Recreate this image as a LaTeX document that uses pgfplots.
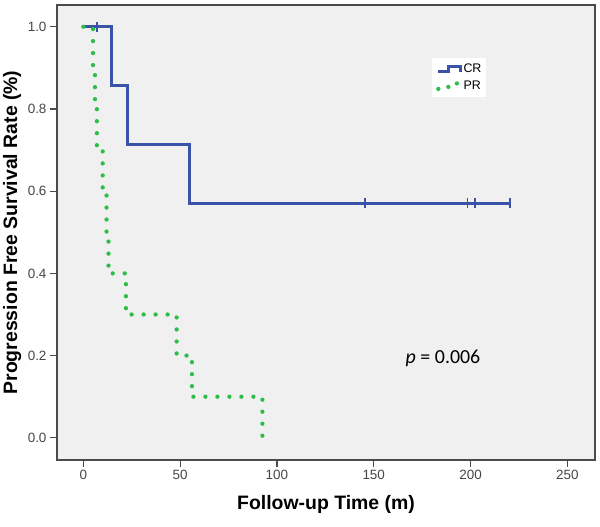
\documentclass[border=0pt]{standalone}
\usepackage{pgfplots}
\pgfplotsset{compat=1.18}
\usepackage{fontspec}
\setmainfont{Liberation Sans}
\newfontfamily\calibri{Carlito}
\definecolor{crblue}{RGB}{58,82,168}
\definecolor{prgreen}{RGB}{45,190,70}
\definecolor{bggray}{RGB}{240,240,240}
\definecolor{framegray}{RGB}{75,75,75}
\definecolor{ticktext}{RGB}{70,70,70}
\pgfplotsset{stepleg/.style={legend image code/.code={\draw[##1] (0bp,-2.5bp) -- (10bp,-2.5bp) -- (10bp,3bp) -- (22bp,3bp) -- (22bp,-2.5bp);}}}
\begin{document}
\begin{tikzpicture}[x=1bp,y=1bp]
\path[use as bounding box] (0,0) rectangle (600,527);
\begin{axis}[
  at={(57bp,67bp)}, anchor=south west,
  width=538bp, height=455bp, scale only axis,
  xmin=-13.6, xmax=264.3, ymin=-0.054, ymax=1.053,
  axis background/.style={fill=bggray},
  axis line style={framegray, line width=1.6bp},
  xtick={0,50,100,150,200,250}, ytick={0,0.2,0.4,0.6,0.8,1.0},
  yticklabel style={/pgf/number format/.cd,fixed,fixed zerofill,precision=1},
  tick align=outside, tick pos=left,
  major tick length=7bp,
  tick style={framegray, line width=1.2bp},
  /pgf/number format/assume math mode=true,
  ticklabel style={font=\fontsize{13.5}{15}\selectfont, text=ticktext},
  xlabel={Follow-up Time (m)},
  ylabel={Progression Free Survival Rate (\%)},
  label style={font=\fontsize{19.5}{22}\bfseries, text=black},
  xlabel style={at={(axis description cs:0.5,-0.0967)}, anchor=center},
  ylabel style={at={(axis description cs:-0.0836,0.5)}, anchor=center},
  legend style={at={(axis description cs:0.697,0.8835)}, anchor=north west,
    draw=none, fill=white!97!bggray, font=\fontsize{12.5}{14}\selectfont,
    inner xsep=4bp, inner ysep=5bp, row sep=5bp,
    nodes={inner sep=1bp}},
  legend cell align=left,
]
\addplot[const plot, crblue, line width=3bp, stepleg]
  coordinates {(0,1) (14.3,0.857) (22.9,0.714) (54.6,0.571) (220.5,0.571)};
\addlegendentry{CR}
\addplot[const plot, prgreen, line width=4.3bp, line cap=round, dash pattern=on 0pt off 12bp, stepleg]
  coordinates {(0,1) (5,0.9) (6,0.8) (7,0.7) (10,0.6) (12,0.5) (13,0.4) (22,0.3) (48.2,0.2) (56.1,0.1) (92.5,0.0)};
\addlegendentry{PR}
\addplot[forget plot, only marks, mark=|, mark size=5bp, crblue, mark options={line width=1.5bp}]
  coordinates {(7,1) (145.5,0.571) (198.4,0.571) (202.3,0.571) (220.5,0.571)};
\node[font=\fontsize{20}{22}\calibri, anchor=center] at (axis cs:185.8,0.194) {\itshape p\upshape{} = 0.006};
\end{axis}
\end{tikzpicture}
\end{document}
